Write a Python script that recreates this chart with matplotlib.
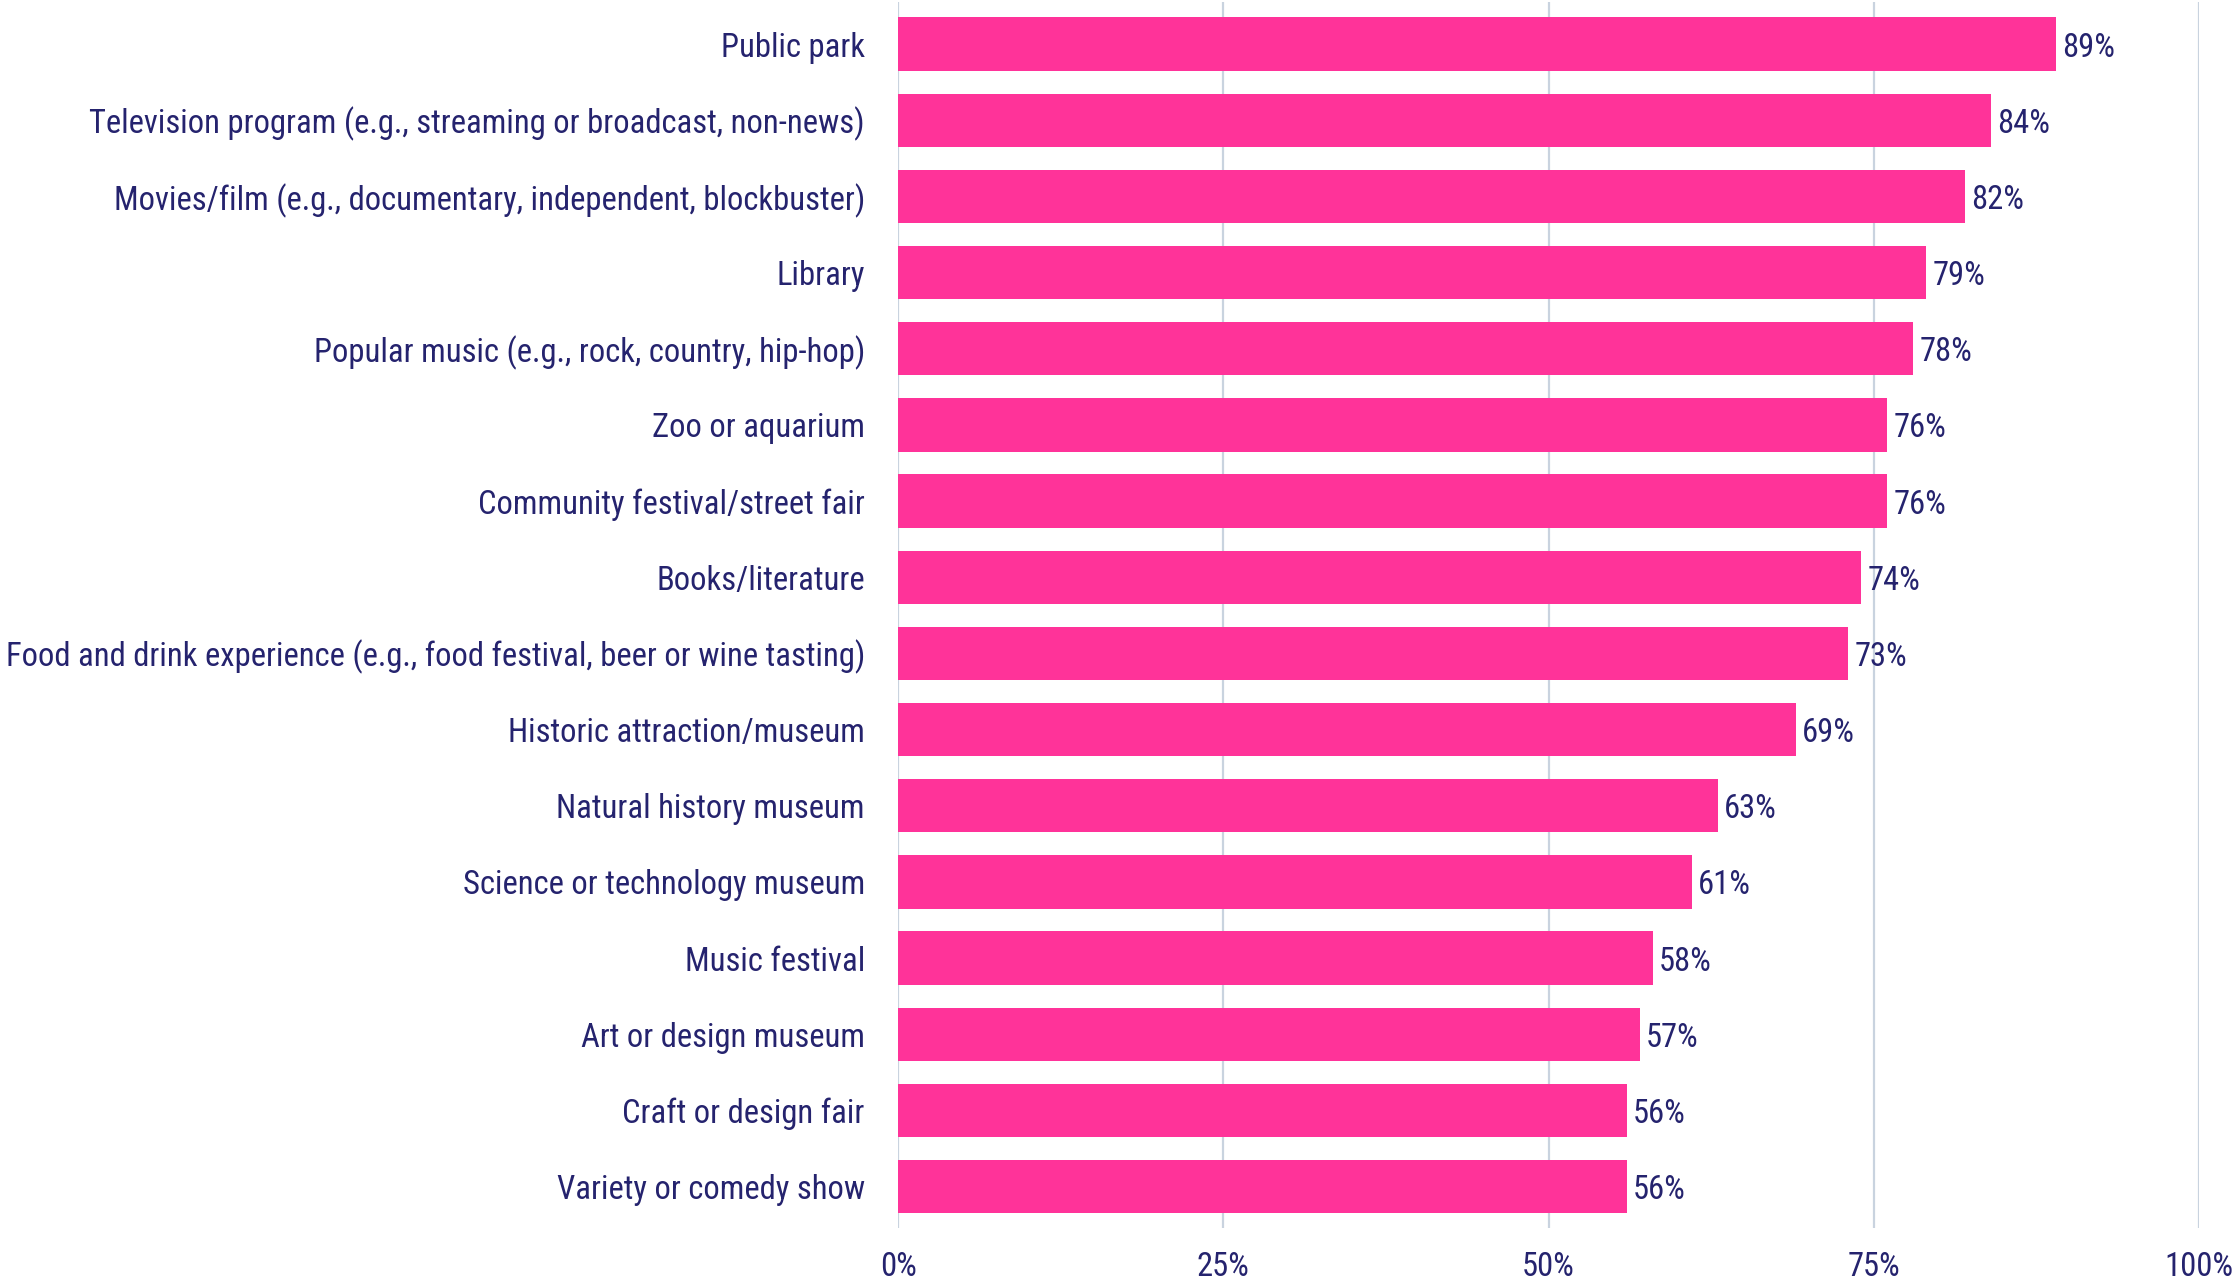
"""
Share of respondents engaging with each cultural activity
"""
import matplotlib
matplotlib.use('Agg')
import matplotlib.pyplot as plt
import matplotlib.font_manager as fm
from matplotlib.ticker import FixedLocator

activities = [
    'Public park',
    'Television program (e.g., streaming or broadcast, non-news)',
    'Movies/film (e.g., documentary, independent, blockbuster)',
    'Library',
    'Popular music (e.g., rock, country, hip-hop)',
    'Zoo or aquarium',
    'Community festival/street fair',
    'Books/literature',
    'Food and drink experience (e.g., food festival, beer or wine tasting)',
    'Historic attraction/museum',
    'Natural history museum',
    'Science or technology museum',
    'Music festival',
    'Art or design museum',
    'Craft or design fair',
    'Variety or comedy show',
]
shares = [89, 84, 82, 79, 78, 76, 76, 74, 73, 69, 63, 61, 58, 57, 56, 56]
x_ticks = [0, 25, 50, 75, 100]

PINK = '#FF3399'
NAVY = '#25236E'
GRID = '#C9D3DF'


def pick_narrow_font():
    """Look for a condensed / narrow sans face among installed fonts."""
    wanted = ['Roboto Condensed', 'Liberation Sans Narrow', 'Open Sans Condensed',
              'Noto Sans Condensed', 'DejaVu Sans Condensed', 'Arial Narrow']
    names = {f.name for f in fm.fontManager.ttflist}
    for w in wanted:
        if w in names:
            return fm.FontProperties(family=w)
    for f in fm.fontManager.ttflist:
        stretch = str(f.stretch).lower()
        if ('condensed' in stretch or 'narrow' in f.fname.lower()
                or 'condensed' in f.fname.lower()) and f.style == 'normal' \
                and f.weight in (400, 500, 'normal', 'regular', 'medium'):
            return fm.FontProperties(fname=f.fname)
    return fm.FontProperties(family='DejaVu Sans')


font = pick_narrow_font()

fig = plt.figure(figsize=(22.36, 12.84), dpi=100)
ax = fig.add_axes([0.4017, 0.0433, 0.5817, 0.955])

# size the labels so the longest one fits in the left margin
renderer = fig.canvas.get_renderer()
size = 28
longest = max(activities, key=len)
probe = fig.text(0, 0, longest, fontproperties=font, fontsize=size)
w = probe.get_window_extent(renderer).width
probe.remove()
if w > 856:
    size = size * 856 / w

y = list(range(len(activities)))
ax.barh(y, shares, height=0.70, color=PINK, zorder=3)

for yi, v in zip(y, shares):
    ax.text(v + 0.5, yi, f'{v}%', va='center_baseline', ha='left',
            fontproperties=font, fontsize=size, color=NAVY, zorder=4)

ax.set_xlim(0, 100)
ax.set_ylim(len(activities) - 0.45, -0.55)
ax.xaxis.set_major_locator(FixedLocator(x_ticks))
ax.set_xticklabels([f'{t}%' for t in x_ticks])
ax.set_yticks(y)
ax.set_yticklabels(activities)
for lab in ax.get_xticklabels() + ax.get_yticklabels():
    lab.set_fontproperties(font)
    lab.set_fontsize(size)
    lab.set_color(NAVY)

ax.grid(axis='x', color=GRID, linewidth=1.6, zorder=0)
for s in ax.spines.values():
    s.set_visible(False)

ax.tick_params(axis='y', length=0, pad=24)
ax.tick_params(axis='x', length=0, pad=16)

fig.savefig('out.png', dpi=100, facecolor='white')
plt.close(fig)
